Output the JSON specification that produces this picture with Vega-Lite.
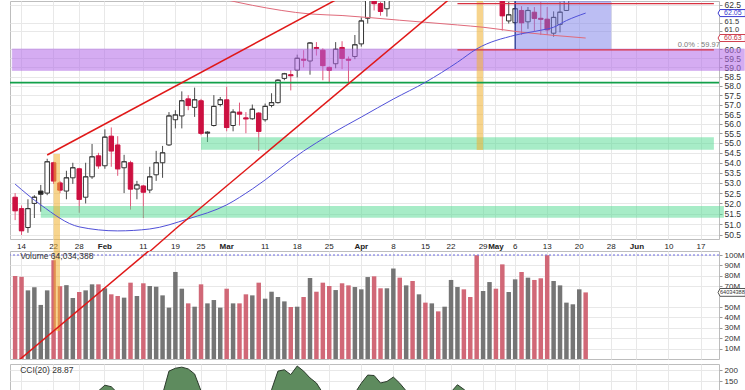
{
"$schema": "https://vega.github.io/schema/vega-lite/v6.json",
"background": "white",
"padding": {"left": 8, "top": 0, "right": 0, "bottom": 0},
"config": {
  "view": {"stroke": "#bdbdbd", "strokeWidth": 1},
  "font": "Liberation Sans",
  "axis": {"labelFont": "Liberation Sans", "labelFontSize": 8.5, "labelColor": "#333", "gridColor": "#e8e8e8", "gridWidth": 1, "domain": false, "tickColor": "#999", "tickSize": 3, "labelPadding": 2, "labelOverlap": false}
},
"datasets": {
  "ohlc": [
    {"date": "2019-01-11", "open": 52.3, "high": 52.5, "low": 51.2, "close": 51.65, "volume": 79800000, "chg": "down", "cci": 98},
    {"date": "2019-01-14", "open": 51.75, "high": 51.9, "low": 50.5, "close": 50.7, "volume": 79000000, "chg": "down", "cci": 60},
    {"date": "2019-01-15", "open": 50.85, "high": 52.2, "low": 50.6, "close": 51.75, "volume": 66000000, "chg": "up", "cci": 40},
    {"date": "2019-01-16", "open": 52.0, "high": 52.4, "low": 51.3, "close": 52.3, "volume": 69000000, "chg": "up", "cci": 60},
    {"date": "2019-01-17", "open": 52.6, "high": 52.9, "low": 51.6, "close": 52.45, "volume": 52000000, "chg": "up", "cci": 80},
    {"date": "2019-01-18", "open": 52.5, "high": 54.2, "low": 52.4, "close": 54.05, "volume": 66000000, "chg": "up", "cci": 106},
    {"date": "2019-01-22", "open": 54.0, "high": 54.05, "low": 52.95, "close": 53.1, "volume": 95000000, "chg": "down", "cci": 75},
    {"date": "2019-01-23", "open": 53.0, "high": 53.1, "low": 52.5, "close": 52.65, "volume": 70000000, "chg": "down", "cci": 50},
    {"date": "2019-01-24", "open": 52.6, "high": 53.6, "low": 52.2, "close": 53.25, "volume": 71000000, "chg": "up", "cci": 60},
    {"date": "2019-01-25", "open": 53.25, "high": 54.0, "low": 52.95, "close": 53.75, "volume": 58700000, "chg": "up", "cci": 80},
    {"date": "2019-01-28", "open": 53.7, "high": 53.75, "low": 51.55, "close": 52.2, "volume": 64400000, "chg": "down", "cci": 40},
    {"date": "2019-01-29", "open": 52.3, "high": 54.0, "low": 52.0, "close": 53.3, "volume": 66000000, "chg": "up", "cci": 65},
    {"date": "2019-01-30", "open": 53.3, "high": 54.95, "low": 53.2, "close": 54.3, "volume": 71800000, "chg": "up", "cci": 92},
    {"date": "2019-01-31", "open": 54.35, "high": 54.5, "low": 53.7, "close": 53.85, "volume": 71800000, "chg": "down", "cci": 105},
    {"date": "2019-02-01", "open": 53.85, "high": 55.7, "low": 53.7, "close": 55.3, "volume": 68000000, "chg": "up", "cci": 131},
    {"date": "2019-02-04", "open": 55.35, "high": 55.8, "low": 53.8, "close": 54.6, "volume": 62200000, "chg": "down", "cci": 124},
    {"date": "2019-02-05", "open": 54.9, "high": 55.35, "low": 53.35, "close": 53.7, "volume": 60600000, "chg": "down", "cci": 95},
    {"date": "2019-02-06", "open": 53.75, "high": 54.4, "low": 52.5, "close": 54.05, "volume": 59000000, "chg": "up", "cci": 80},
    {"date": "2019-02-07", "open": 54.0, "high": 54.1, "low": 51.7, "close": 52.7, "volume": 73400000, "chg": "down", "cci": 30},
    {"date": "2019-02-08", "open": 52.7, "high": 53.1, "low": 52.2, "close": 52.9, "volume": 60600000, "chg": "up", "cci": 30},
    {"date": "2019-02-11", "open": 52.85, "high": 52.9, "low": 51.3, "close": 52.55, "volume": 72800000, "chg": "down", "cci": 20},
    {"date": "2019-02-12", "open": 52.65, "high": 53.8, "low": 52.5, "close": 53.3, "volume": 70200000, "chg": "up", "cci": 45},
    {"date": "2019-02-13", "open": 53.4, "high": 54.6, "low": 53.1, "close": 54.0, "volume": 69500000, "chg": "up", "cci": 70},
    {"date": "2019-02-14", "open": 54.0, "high": 54.85, "low": 53.25, "close": 54.5, "volume": 61200000, "chg": "up", "cci": 90},
    {"date": "2019-02-15", "open": 54.9, "high": 56.6, "low": 54.85, "close": 56.4, "volume": 49400000, "chg": "up", "cci": 195},
    {"date": "2019-02-19", "open": 56.2, "high": 56.7, "low": 55.75, "close": 56.45, "volume": 83700000, "chg": "up", "cci": 208},
    {"date": "2019-02-20", "open": 56.4, "high": 57.7, "low": 55.75, "close": 57.2, "volume": 67600000, "chg": "up", "cci": 213},
    {"date": "2019-02-21", "open": 57.3, "high": 57.5, "low": 56.7, "close": 56.95, "volume": 53500000, "chg": "down", "cci": 205},
    {"date": "2019-02-22", "open": 56.85, "high": 57.9, "low": 56.35, "close": 57.25, "volume": 50300000, "chg": "up", "cci": 182},
    {"date": "2019-02-25", "open": 57.2, "high": 57.3, "low": 55.4, "close": 55.5, "volume": 71800000, "chg": "down", "cci": 105},
    {"date": "2019-02-26", "open": 55.5, "high": 55.6, "low": 55.05, "close": 55.55, "volume": 53500000, "chg": "up", "cci": 60},
    {"date": "2019-02-27", "open": 55.9, "high": 57.5, "low": 55.85, "close": 56.9, "volume": 56700000, "chg": "up", "cci": 75},
    {"date": "2019-02-28", "open": 57.0, "high": 57.4, "low": 56.9, "close": 57.25, "volume": 49400000, "chg": "up", "cci": 85},
    {"date": "2019-03-01", "open": 57.25, "high": 57.95, "low": 55.6, "close": 55.8, "volume": 67600000, "chg": "down", "cci": 50},
    {"date": "2019-03-04", "open": 55.9, "high": 56.75, "low": 55.6, "close": 56.6, "volume": 53500000, "chg": "up", "cci": 40},
    {"date": "2019-03-05", "open": 56.6, "high": 57.1, "low": 55.9, "close": 56.5, "volume": 53500000, "chg": "down", "cci": 45},
    {"date": "2019-03-06", "open": 56.3, "high": 56.6, "low": 55.5, "close": 56.25, "volume": 62200000, "chg": "down", "cci": 30},
    {"date": "2019-03-07", "open": 56.25, "high": 57.0, "low": 56.2, "close": 56.75, "volume": 61200000, "chg": "up", "cci": 45},
    {"date": "2019-03-08", "open": 56.55, "high": 56.6, "low": 54.6, "close": 55.6, "volume": 73400000, "chg": "down", "cci": 20},
    {"date": "2019-03-11", "open": 56.2, "high": 57.05, "low": 56.1, "close": 56.9, "volume": 58000000, "chg": "up", "cci": 70},
    {"date": "2019-03-12", "open": 56.95, "high": 57.6, "low": 56.85, "close": 57.1, "volume": 64700000, "chg": "up", "cci": 110},
    {"date": "2019-03-13", "open": 57.1, "high": 58.35, "low": 57.05, "close": 58.3, "volume": 59600000, "chg": "up", "cci": 195},
    {"date": "2019-03-14", "open": 58.4, "high": 58.7, "low": 58.3, "close": 58.65, "volume": 55400000, "chg": "up", "cci": 201},
    {"date": "2019-03-15", "open": 58.6, "high": 58.85, "low": 57.75, "close": 58.55, "volume": 50000000, "chg": "down", "cci": 179},
    {"date": "2019-03-18", "open": 58.85, "high": 59.7, "low": 58.45, "close": 59.5, "volume": 50300000, "chg": "up", "cci": 218},
    {"date": "2019-03-19", "open": 59.45, "high": 59.95, "low": 59.0, "close": 59.4, "volume": 59600000, "chg": "down", "cci": 195},
    {"date": "2019-03-20", "open": 59.35, "high": 60.4, "low": 58.6, "close": 60.35, "volume": 77900000, "chg": "up", "cci": 164},
    {"date": "2019-03-21", "open": 60.1, "high": 60.4, "low": 59.65, "close": 60.05, "volume": 64700000, "chg": "down", "cci": 141},
    {"date": "2019-03-22", "open": 59.95, "high": 60.05, "low": 58.3, "close": 59.1, "volume": 73400000, "chg": "down", "cci": 95},
    {"date": "2019-03-25", "open": 59.0, "high": 59.05, "low": 58.2, "close": 58.85, "volume": 70200000, "chg": "down", "cci": 70},
    {"date": "2019-03-26", "open": 59.2, "high": 60.4, "low": 58.95, "close": 60.0, "volume": 66300000, "chg": "up", "cci": 85},
    {"date": "2019-03-27", "open": 60.1, "high": 60.45, "low": 58.9, "close": 59.5, "volume": 72800000, "chg": "down", "cci": 75},
    {"date": "2019-03-28", "open": 59.45, "high": 59.6, "low": 58.2, "close": 59.4, "volume": 70800000, "chg": "down", "cci": 70},
    {"date": "2019-03-29", "open": 59.6, "high": 60.8, "low": 59.45, "close": 60.25, "volume": 69200000, "chg": "up", "cci": 95},
    {"date": "2019-04-01", "open": 60.3, "high": 61.8, "low": 60.15, "close": 61.6, "volume": 67000000, "chg": "up", "cci": 140},
    {"date": "2019-04-02", "open": 61.75, "high": 63.0, "low": 61.45, "close": 62.8, "volume": 78800000, "chg": "up", "cci": 177},
    {"date": "2019-04-03", "open": 63.1, "high": 63.3, "low": 62.2, "close": 62.6, "volume": 79500000, "chg": "down", "cci": 175},
    {"date": "2019-04-04", "open": 62.6, "high": 62.7, "low": 61.9, "close": 62.15, "volume": 68000000, "chg": "down", "cci": 141},
    {"date": "2019-04-05", "open": 62.3, "high": 63.0, "low": 61.85, "close": 62.8, "volume": 68000000, "chg": "up", "cci": 148},
    {"date": "2019-04-08", "volume": 87000000, "chg": "up", "cci": 168},
    {"date": "2019-04-09", "volume": 78200000, "chg": "down", "cci": 140},
    {"date": "2019-04-10", "volume": 70800000, "chg": "up", "cci": 105},
    {"date": "2019-04-11", "volume": 75000000, "chg": "down", "cci": 80},
    {"date": "2019-04-12", "volume": 62200000, "chg": "up", "cci": 70},
    {"date": "2019-04-15", "volume": 54200000, "chg": "down", "cci": 60},
    {"date": "2019-04-16", "volume": 53500000, "chg": "up", "cci": 55},
    {"date": "2019-04-17", "volume": 45800000, "chg": "down", "cci": 40},
    {"date": "2019-04-18", "volume": 50300000, "chg": "up", "cci": 60},
    {"date": "2019-04-22", "volume": 76000000, "chg": "up", "cci": 100},
    {"date": "2019-04-23", "volume": 69200000, "chg": "up", "cci": 133},
    {"date": "2019-04-24", "volume": 67000000, "chg": "down", "cci": 112},
    {"date": "2019-04-25", "volume": 59600000, "chg": "down", "cci": 85},
    {"date": "2019-04-26", "volume": 99800000, "chg": "down", "cci": 30},
    {"date": "2019-04-29", "volume": 65400000, "chg": "up", "cci": 20},
    {"date": "2019-04-30", "volume": 74000000, "chg": "up", "cci": 40},
    {"date": "2019-05-01", "volume": 67600000, "chg": "down", "cci": 30},
    {"date": "2019-05-02", "open": 63.0, "high": 63.1, "low": 61.05, "close": 61.9, "volume": 91000000, "chg": "down", "cci": -40},
    {"date": "2019-05-03", "open": 61.6, "high": 62.7, "low": 61.45, "close": 61.95, "volume": 64400000, "chg": "up", "cci": -30},
    {"date": "2019-05-06", "open": 61.5, "high": 62.7, "low": 61.4, "close": 62.3, "volume": 76600000, "chg": "up", "cci": -10},
    {"date": "2019-05-07", "open": 62.2, "high": 62.45, "low": 60.8, "close": 61.5, "volume": 83700000, "chg": "down", "cci": -60},
    {"date": "2019-05-08", "open": 61.55, "high": 62.4, "low": 61.15, "close": 62.2, "volume": 78200000, "chg": "up", "cci": -20},
    {"date": "2019-05-09", "open": 62.1, "high": 62.4, "low": 61.0, "close": 61.75, "volume": 76000000, "chg": "down", "cci": -40},
    {"date": "2019-05-10", "open": 61.75, "high": 62.7, "low": 60.8, "close": 61.7, "volume": 77600000, "chg": "down", "cci": -30},
    {"date": "2019-05-13", "open": 61.7, "high": 62.4, "low": 60.8, "close": 61.1, "volume": 99800000, "chg": "down", "cci": -60},
    {"date": "2019-05-14", "open": 60.9, "high": 62.15, "low": 60.7, "close": 61.8, "volume": 75000000, "chg": "up", "cci": -20},
    {"date": "2019-05-15", "open": 61.4, "high": 62.7, "low": 60.95, "close": 62.1, "volume": 70800000, "chg": "up", "cci": 0},
    {"date": "2019-05-16", "open": 62.2, "high": 63.1, "low": 62.2, "close": 62.9, "volume": 54200000, "chg": "up", "cci": 40},
    {"date": "2019-05-17", "volume": 52600000, "chg": "up", "cci": 50},
    {"date": "2019-05-20", "volume": 67000000, "chg": "up", "cci": 20},
    {"date": "2019-05-21", "volume": 64034388, "chg": "down", "cci": 28.87}
  ],
  "ma50": [
    {"date": "2019-01-11", "v": 52.94}, {"date": "2019-01-17", "v": 51.93}, {"date": "2019-01-28", "v": 50.88},
    {"date": "2019-02-05", "v": 50.69}, {"date": "2019-02-12", "v": 50.78}, {"date": "2019-02-21", "v": 51.26},
    {"date": "2019-03-01", "v": 51.93}, {"date": "2019-03-07", "v": 52.7}, {"date": "2019-03-19", "v": 54.59},
    {"date": "2019-03-25", "v": 55.41}, {"date": "2019-04-01", "v": 56.34}, {"date": "2019-04-08", "v": 57.29},
    {"date": "2019-04-15", "v": 58.19}, {"date": "2019-04-23", "v": 59.28}, {"date": "2019-04-26", "v": 60.02},
    {"date": "2019-05-06", "v": 60.79}, {"date": "2019-05-10", "v": 61.07}, {"date": "2019-05-14", "v": 61.24},
    {"date": "2019-05-16", "v": 61.62}, {"date": "2019-05-21", "v": 62.05}
  ],
  "ma200": [
    {"date": "2019-02-22", "v": 63.28}, {"date": "2019-03-07", "v": 62.5}, {"date": "2019-03-20", "v": 62.0},
    {"date": "2019-03-27", "v": 61.91}, {"date": "2019-04-09", "v": 61.64}, {"date": "2019-04-23", "v": 61.37},
    {"date": "2019-04-29", "v": 61.24}, {"date": "2019-05-07", "v": 60.96}, {"date": "2019-05-21", "v": 60.63}
  ]
},
"bounds": "full",
"spacing": 3,
"resolve": {"scale": {"x": "shared"}},
"vconcat": [
 {
  "bounds": "flush",
  "spacing": 12,
  "resolve": {"scale": {"x": "shared"}},
  "vconcat": [
   {
    "width": 709,
    "height": 238,
    "layer": [
     {
      "data": {"name": "ohlc"},
      "mark": {"type": "rule", "clip": true, "strokeWidth": 1},
      "encoding": {
        "x": {"field": "date", "type": "ordinal",
          "scale": {"type": "band", "paddingInner": 0.3, "paddingOuter": 0.45, "domain": ["2019-01-11","2019-01-14","2019-01-15","2019-01-16","2019-01-17","2019-01-18","2019-01-22","2019-01-23","2019-01-24","2019-01-25","2019-01-28","2019-01-29","2019-01-30","2019-01-31","2019-02-01","2019-02-04","2019-02-05","2019-02-06","2019-02-07","2019-02-08","2019-02-11","2019-02-12","2019-02-13","2019-02-14","2019-02-15","2019-02-19","2019-02-20","2019-02-21","2019-02-22","2019-02-25","2019-02-26","2019-02-27","2019-02-28","2019-03-01","2019-03-04","2019-03-05","2019-03-06","2019-03-07","2019-03-08","2019-03-11","2019-03-12","2019-03-13","2019-03-14","2019-03-15","2019-03-18","2019-03-19","2019-03-20","2019-03-21","2019-03-22","2019-03-25","2019-03-26","2019-03-27","2019-03-28","2019-03-29","2019-04-01","2019-04-02","2019-04-03","2019-04-04","2019-04-05","2019-04-08","2019-04-09","2019-04-10","2019-04-11","2019-04-12","2019-04-15","2019-04-16","2019-04-17","2019-04-18","2019-04-22","2019-04-23","2019-04-24","2019-04-25","2019-04-26","2019-04-29","2019-04-30","2019-05-01","2019-05-02","2019-05-03","2019-05-06","2019-05-07","2019-05-08","2019-05-09","2019-05-10","2019-05-13","2019-05-14","2019-05-15","2019-05-16","2019-05-17","2019-05-20","2019-05-21","2019-05-22","2019-05-23","2019-05-24","2019-05-28","2019-05-29","2019-05-30","2019-05-31","2019-06-03","2019-06-04","2019-06-05","2019-06-06","2019-06-07","2019-06-10","2019-06-11","2019-06-12","2019-06-13","2019-06-14","2019-06-17","2019-06-18","2019-06-19"]},
          "axis": {"orient": "bottom", "title": null, "values": ["2019-01-14","2019-01-22","2019-01-28","2019-02-01","2019-02-11","2019-02-19","2019-02-25","2019-03-01","2019-03-11","2019-03-18","2019-03-25","2019-04-01","2019-04-08","2019-04-15","2019-04-22","2019-04-29","2019-05-01","2019-05-06","2019-05-13","2019-05-20","2019-05-28","2019-06-03","2019-06-10","2019-06-17"],
            "labelExpr": "(slice(datum.value, 8) == '01' || datum.value == '2019-06-03') ? utcFormat(toDate(datum.value), '%b') : '' + toNumber(slice(datum.value, 8))",
            "labelFontWeight": {"condition": {"test": "slice(datum.value, 8) == '01' || datum.value == '2019-06-03'", "value": "bold"}, "value": "normal"},
            "labelAngle": 0, "ticks": false, "domain": false, "grid": true, "bandPosition": 0.5, "labelPadding": 3, "labelColor": "#222", "labelFontSize": 8, "labelOverlap": false}},
        "y": {"field": "low", "type": "quantitative",
          "scale": {"type": "log", "domain": [50.31, 62.75], "nice": false, "zero": false},
          "axis": {"orient": "right", "title": null, "tickCount": 40, "values": [50.5, 51, 51.5, 52, 52.5, 53, 53.5, 54, 54.5, 55, 55.5, 56, 56.5, 57, 57.5, 58, 58.5, 59, 59.5, 60, 61, 61.5, 62.5], "format": ".1f", "grid": true, "labelOverlap": false,
            "labelFontSize": {"condition": {"test": "datum.value == 61 || datum.value == 61.5", "value": 7.5}, "value": 8.5},
            "labelOffset": {"condition": [{"test": "datum.value == 61", "value": -2}, {"test": "datum.value == 61.5", "value": -1.5}, {"test": "datum.value == 62.5", "value": -0.5}], "value": 0}}},
        "y2": {"field": "high"},
        "color": {"condition": {"test": "datum.chg == 'down'", "value": "#e0587a"}, "value": "#4a4a4a"}
      }
     },
     {
      "data": {"name": "ohlc"},
      "mark": {"type": "bar", "clip": true, "strokeWidth": 1},
      "encoding": {
        "x": {"field": "date", "type": "ordinal"},
        "y": {"field": "open", "type": "quantitative"},
        "y2": {"field": "close"},
        "fill": {"condition": [{"test": "datum.close > datum.open", "value": "#ffffff"}, {"test": "datum.chg == 'down'", "value": "#cc1040"}], "value": "#1e1e1e"},
        "stroke": {"condition": {"test": "datum.chg == 'down'", "value": "#cc1040"}, "value": "#333333"}
      }
     },
     {
      "data": {"name": "ohlc"},
      "mark": {"type": "tick", "clip": true, "thickness": 1.2, "size": 5},
      "encoding": {
        "x": {"field": "date", "type": "ordinal"},
        "y": {"field": "close", "type": "quantitative"},
        "color": {"condition": {"test": "datum.chg == 'down'", "value": "#cc1040"}, "value": "#333333"}
      }
     },
     {
      "data": {"values": [{"d1": "2019-01-11", "d2": "2019-06-19", "p1": 58.83, "p2": 60.02}]},
      "mark": {"type": "rect", "color": "#b36ae8", "opacity": 0.55, "stroke": "#a860e0", "strokeWidth": 1, "strokeOpacity": 0.6, "xOffset": -2.9, "x2Offset": 30.5},
      "encoding": {"x": {"field": "d1", "type": "ordinal"}, "x2": {"field": "d2"}, "y": {"field": "p1", "type": "quantitative"}, "y2": {"field": "p2"}}
     },
     {
      "data": {"values": [{"d1": "2019-02-25", "d2": "2019-06-19", "p1": 54.66, "p2": 55.3}]},
      "mark": {"type": "rect", "color": "#4fd98f", "opacity": 0.5},
      "encoding": {"x": {"field": "d1", "type": "ordinal"}, "x2": {"field": "d2"}, "y": {"field": "p1", "type": "quantitative"}, "y2": {"field": "p2"}}
     },
     {
      "data": {"values": [{"d1": "2019-01-17", "d2": "2019-06-19", "p1": 51.31, "p2": 51.88}]},
      "mark": {"type": "rect", "color": "#4fd98f", "opacity": 0.5, "x2Offset": 10},
      "encoding": {"x": {"field": "d1", "type": "ordinal"}, "x2": {"field": "d2"}, "y": {"field": "p1", "type": "quantitative"}, "y2": {"field": "p2"}}
     },
     {
      "data": {"values": [{"d1": "2019-01-22", "d2": "2019-01-23", "p1": 49.72, "p2": 54.44}]},
      "mark": {"type": "rect", "color": "#f0b030", "opacity": 0.55, "clip": false},
      "encoding": {"x": {"field": "d1", "type": "ordinal"}, "x2": {"field": "d2"}, "y": {"field": "p1", "type": "quantitative"}, "y2": {"field": "p2"}}
     },
     {
      "data": {"values": [{"d1": "2019-04-26", "d2": "2019-04-29", "p1": 54.64, "p2": 63.0}]},
      "mark": {"type": "rect", "color": "#f0b030", "opacity": 0.55, "clip": true},
      "encoding": {"x": {"field": "d1", "type": "ordinal"}, "x2": {"field": "d2"}, "y": {"field": "p1", "type": "quantitative"}, "y2": {"field": "p2"}}
     },
     {
      "data": {"values": [{"d1": "2019-05-06", "d2": "2019-05-28", "p1": 60.02, "p2": 63.0}]},
      "mark": {"type": "rect", "color": "#7a7ee8", "opacity": 0.5, "clip": true},
      "encoding": {"x": {"field": "d1", "type": "ordinal"}, "x2": {"field": "d2"}, "y": {"field": "p1", "type": "quantitative"}, "y2": {"field": "p2"}}
     },
     {
      "data": {"values": [{"d": "2019-05-06", "p1": 60.02, "p2": 63.0}]},
      "mark": {"type": "rule", "color": "#1a2a8a", "strokeWidth": 1.2, "clip": true},
      "encoding": {"x": {"field": "d", "type": "ordinal"}, "y": {"field": "p1", "type": "quantitative"}, "y2": {"field": "p2"}}
     },
     {
      "data": {"values": [{"p": 58.17}]},
      "mark": {"type": "rule", "color": "#12a04a", "strokeWidth": 1.6},
      "encoding": {"y": {"field": "p", "type": "quantitative"}}
     },
     {
      "data": {"values": [{"d1": "2019-04-23", "d2": "2019-06-19", "p": 59.97}, {"d1": "2019-04-23", "d2": "2019-06-19", "p": 62.6}]},
      "mark": {"type": "rule", "color": "#d83040", "strokeWidth": 1.2, "clip": true},
      "encoding": {"x": {"field": "d1", "type": "ordinal"}, "x2": {"field": "d2"}, "y": {"field": "p", "type": "quantitative"}}
     },
     {
      "data": {"name": "ma200"},
      "mark": {"type": "line", "color": "#e06a7a", "strokeWidth": 1, "clip": true, "interpolate": "monotone"},
      "encoding": {"x": {"field": "date", "type": "ordinal"}, "y": {"field": "v", "type": "quantitative"}}
     },
     {
      "data": {"name": "ma50"},
      "mark": {"type": "line", "color": "#5050d8", "strokeWidth": 1, "clip": true, "interpolate": "monotone"},
      "encoding": {"x": {"field": "date", "type": "ordinal"}, "y": {"field": "v", "type": "quantitative"}}
     },
     {
      "data": {"values": [
        {"line": "upper", "date": "2019-01-18", "p": 54.39}, {"line": "upper", "date": "2019-03-27", "p": 63.01},
        {"line": "lower", "date": "2019-02-19", "p": 50.78}, {"line": "lower", "date": "2019-04-22", "p": 62.94}]},
      "mark": {"type": "line", "color": "#e01818", "strokeWidth": 1.5, "clip": true},
      "encoding": {"x": {"field": "date", "type": "ordinal"}, "y": {"field": "p", "type": "quantitative"}, "detail": {"field": "line"}}
     },
     {
      "data": {"values": [{"date": "2019-02-12", "p": 49.73}, {"date": "2019-02-19", "p": 50.78}]},
      "mark": {"type": "line", "color": "#e01818", "strokeWidth": 1.5, "clip": false},
      "encoding": {"x": {"field": "date", "type": "ordinal"}, "y": {"field": "p", "type": "quantitative"}}
     },
     {
      "data": {"values": [{"p": 59.97, "t": "0.0% : 59.97"}]},
      "mark": {"type": "text", "align": "right", "baseline": "bottom", "dx": 6, "dy": -1, "fontSize": 7.5, "color": "#7a7a7a"},
      "encoding": {"x": {"datum": "2019-06-19", "type": "ordinal"}, "y": {"field": "p", "type": "quantitative"}, "text": {"field": "t"}}
     },
     {
      "data": {"values": [{"p": 62.05, "t": "62.05", "s": "ma50"}, {"p": 60.63, "t": "60.63", "s": "ma200"}]},
      "mark": {"type": "point", "shape": "M-1.1,0L-0.95,-0.27L1,-0.27L1,0.27L-0.95,0.27Z", "size": 676, "filled": true, "fill": "white", "strokeWidth": 1, "xOffset": 18.5, "opacity": 1},
      "encoding": {"x": {"datum": "2019-06-19", "type": "ordinal"}, "y": {"field": "p", "type": "quantitative"},
        "stroke": {"condition": {"test": "datum.s == 'ma50'", "value": "#3a3ad0"}, "value": "#d04050"}}
     },
     {
      "data": {"values": [{"p": 62.05, "t": "62.05", "s": "ma50"}, {"p": 60.63, "t": "60.63", "s": "ma200"}]},
      "mark": {"type": "text", "align": "center", "baseline": "middle", "dx": 19, "fontSize": 7},
      "encoding": {"x": {"datum": "2019-06-19", "type": "ordinal"}, "y": {"field": "p", "type": "quantitative"}, "text": {"field": "t"},
        "color": {"condition": {"test": "datum.s == 'ma50'", "value": "#3a3ad0"}, "value": "#c03040"}}
     }
    ]
   },
   {
    "width": 709,
    "height": 108,
    "layer": [
     {
      "data": {"name": "ohlc"},
      "mark": {"type": "bar", "opacity": 0.95},
      "encoding": {
        "x": {"field": "date", "type": "ordinal",
          "axis": {"title": null, "labels": false, "ticks": false, "domain": false, "grid": true, "bandPosition": 0.5,
            "values": ["2019-01-14","2019-01-22","2019-01-28","2019-02-01","2019-02-11","2019-02-19","2019-02-25","2019-03-01","2019-03-11","2019-03-18","2019-03-25","2019-04-01","2019-04-08","2019-04-15","2019-04-22","2019-04-29","2019-05-01","2019-05-06","2019-05-13","2019-05-20","2019-05-28","2019-06-03","2019-06-10","2019-06-17"]}},
        "y": {"field": "volume", "type": "quantitative", "scale": {"domain": [0, 103850000], "nice": false},
          "axis": {"orient": "right", "title": null, "tickCount": 20, "values": [10000000, 20000000, 30000000, 40000000, 50000000, 70000000, 80000000, 90000000, 100000000], "labelExpr": "round(datum.value / 1000000) + 'M'", "grid": true, "labelOverlap": false, "labelFontSize": 8}},
        "color": {"condition": {"test": "datum.chg == 'down'", "value": "#cf6070"}, "value": "#6e6e6e"}
      }
     },
     {
      "data": {"values": [{"d1": "2019-01-22", "d2": "2019-01-23", "v1": 26900000, "v2": 103850000}]},
      "mark": {"type": "rect", "color": "#f0b030", "opacity": 0.55},
      "encoding": {"x": {"field": "d1", "type": "ordinal"}, "x2": {"field": "d2"}, "y": {"field": "v1", "type": "quantitative"}, "y2": {"field": "v2"}}
     },
     {
      "data": {"values": [{"v": 100000000}]},
      "mark": {"type": "rule", "color": "#6a6ae0", "strokeWidth": 1, "strokeDash": [2, 2]},
      "encoding": {"y": {"field": "v", "type": "quantitative"}}
     },
     {
      "data": {"values": [{"date": "2019-01-11", "v": -4200000}, {"date": "2019-02-12", "v": 104700000}]},
      "mark": {"type": "line", "color": "#e01818", "strokeWidth": 1.5, "clip": true},
      "encoding": {"x": {"field": "date", "type": "ordinal"}, "y": {"field": "v", "type": "quantitative"}}
     },
     {
      "data": {"values": [{"v": 100000000, "t": "Volume 64,034,388"}]},
      "mark": {"type": "text", "align": "left", "baseline": "middle", "dx": 5, "dy": 0.5, "fontSize": 8.5, "color": "#333"},
      "encoding": {"x": {"datum": "2019-01-11", "type": "ordinal"}, "y": {"field": "v", "type": "quantitative"}, "text": {"field": "t"}}
     },
     {
      "data": {"values": [{"v": 64034388, "t": "64034388"}]},
      "mark": {"type": "point", "shape": "M-1.1,0L-0.95,-0.3L1,-0.3L1,0.3L-0.95,0.3Z", "size": 676, "filled": true, "fill": "white", "stroke": "#555", "strokeWidth": 1, "xOffset": 18.5, "opacity": 1},
      "encoding": {"x": {"datum": "2019-06-19", "type": "ordinal"}, "y": {"field": "v", "type": "quantitative"}}
     },
     {
      "data": {"values": [{"v": 64034388, "t": "64034388"}]},
      "mark": {"type": "text", "align": "center", "baseline": "middle", "dx": 18.5, "fontSize": 5.6, "color": "#333"},
      "encoding": {"x": {"datum": "2019-06-19", "type": "ordinal"}, "y": {"field": "v", "type": "quantitative"}, "text": {"field": "t"}}
     }
    ]
   }
  ]
 },
 {
  "width": 709,
  "height": 29,
  "layer": [
   {
    "data": {"name": "ohlc"},
    "mark": {"type": "area", "clip": true, "color": "#5e8b5e", "opacity": 1, "line": {"color": "#2b3a2b", "strokeWidth": 1}},
    "encoding": {
      "x": {"field": "date", "type": "ordinal",
        "axis": {"title": null, "labels": false, "ticks": false, "domain": false, "grid": true, "bandPosition": 0.5,
          "values": ["2019-01-14","2019-01-22","2019-01-28","2019-02-01","2019-02-11","2019-02-19","2019-02-25","2019-03-01","2019-03-11","2019-03-18","2019-03-25","2019-04-01","2019-04-08","2019-04-15","2019-04-22","2019-04-29","2019-05-01","2019-05-06","2019-05-13","2019-05-20","2019-05-28","2019-06-03","2019-06-10","2019-06-17"]}},
      "y": {"field": "cci", "type": "quantitative", "scale": {"domain": [95.5, 227.3], "nice": false, "zero": false},
        "axis": {"orient": "right", "title": null, "tickCount": 10, "values": [150, 200], "grid": true, "labelOverlap": false, "labelFontSize": 8}},
      "y2": {"datum": 95}
    }
   },
   {
    "data": {"values": [{"c": 200, "t": "CCI(20) 28.87"}]},
    "mark": {"type": "text", "align": "left", "baseline": "middle", "dx": 5, "fontSize": 8.5, "color": "#333"},
    "encoding": {"x": {"datum": "2019-01-11", "type": "ordinal"}, "y": {"field": "c", "type": "quantitative"}, "text": {"field": "t"}}
   }
  ]
 }
]
}
